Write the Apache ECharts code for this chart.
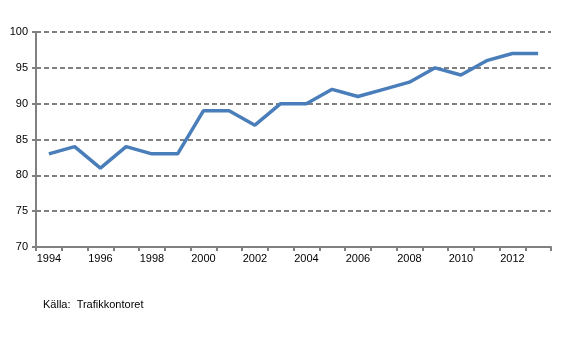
<!DOCTYPE html>
<html>
<head>
<meta charset="utf-8">
<script src="https://cdn.jsdelivr.net/npm/echarts@6/dist/echarts.min.js"></script>
<style>
html, body { margin: 0; padding: 0; background: #fff; }
#main { width: 577px; height: 353px; }
</style>
</head>
<body>
<div id="main"></div>
<script>
var years = ['1994','1995','1996','1997','1998','1999','2000','2001','2002','2003',
             '2004','2005','2006','2007','2008','2009','2010','2011','2012','2013'];
var values = [83, 84, 81, 84, 83, 83, 89, 89, 87, 90, 90, 92, 91, 92, 93, 95, 94, 96, 97, 97];
var sourceText = 'Källa:  Trafikkontoret';

var myChart = echarts.init(document.getElementById('main'));

var option = {
	animation: false,
	textStyle: { fontFamily: 'Liberation Sans, Arial, sans-serif' },
	grid: { left: 36, right: 26, top: 32, bottom: 106 },
	graphic: [{
		type: 'text',
		left: 43,
		top: 299,
		style: { text: sourceText, font: '11px Liberation Sans, Arial, sans-serif', fill: '#000' }
	}],
	xAxis: {
		type: 'category',
		data: years,
		boundaryGap: true,
		axisLine: { lineStyle: { color: '#808080', width: 2 } },
		axisTick: { show: true, interval: 0, length: 4, lineStyle: { color: '#808080', width: 2 } },
		axisLabel: { interval: 1, color: '#000', fontSize: 11, margin: 6 },
		splitLine: { show: false }
	},
	yAxis: {
		type: 'value',
		min: 70,
		max: 100,
		interval: 5,
		axisLine: { show: true, lineStyle: { color: '#808080', width: 2 } },
		axisTick: { show: true, length: 4, inside: false, lineStyle: { color: '#808080', width: 2 } },
		axisLabel: { color: '#000', fontSize: 11, margin: 8 },
		splitLine: { lineStyle: { color: '#808080', type: [5, 3], width: 2 } }
	},
	series: [{
		type: 'line',
		data: values,
		symbol: 'none',
		lineStyle: { color: '#4A7EBB', width: 3.5 },
		itemStyle: { color: '#4A7EBB' }
	}]
};

myChart.setOption(option);
</script>
</body>
</html>
